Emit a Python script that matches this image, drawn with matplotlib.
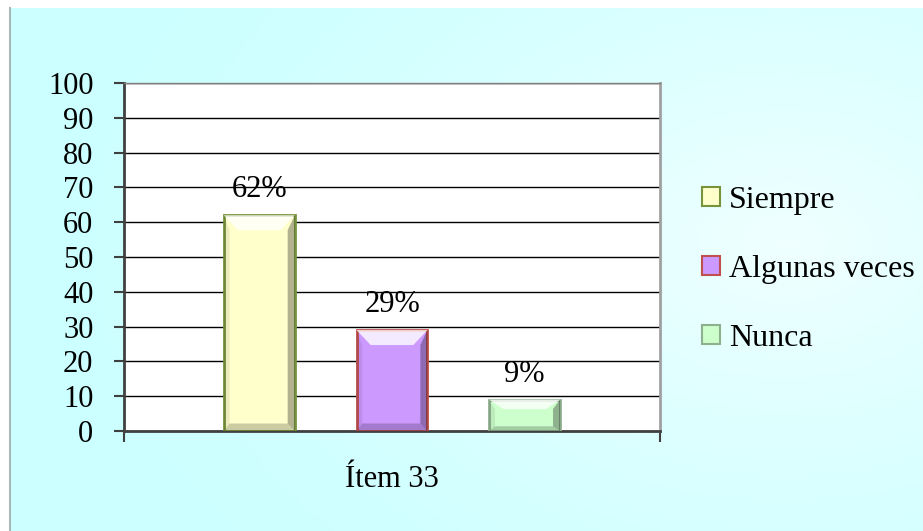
import numpy as np
import matplotlib.pyplot as plt
from matplotlib.patches import Patch, Polygon
from matplotlib.lines import Line2D

# datos del gráfico
categories = ['Siempre', 'Algunas veces', 'Nunca']
values = [62, 29, 9]
value_labels = ['62%', '29%', '9%']
group_label = 'Ítem 33'
yticks = list(range(0, 101, 10))

fill_colors = ['#FFFFCC', '#CC99FF', '#CCFFCC']
edge_colors = ['#77933C', '#C0504D', '#8FB08F']

plt.rcParams['font.family'] = ['Liberation Serif', 'DejaVu Serif']
FS = 22

fig = plt.figure(figsize=(9.23, 5.31), dpi=100)
fig.patch.set_facecolor('white')

# fondo celeste con un leve degradado
bg = fig.add_axes([10 / 923, 0, 1 - 10 / 923, 1 - 8 / 531])
gx, gy = np.meshgrid(np.linspace(0, 1, 200), np.linspace(0, 1, 120))
t = np.clip(1 - np.hypot((gx - 0.85) * 1.2, (gy - 0.55) * 1.0), 0, 1) ** 1.5
grad = np.zeros((120, 200, 3))
grad[..., 0] = (204 + 36 * t) / 255
grad[..., 1] = 1.0
grad[..., 2] = 1.0
bg.imshow(grad, extent=[0, 1, 0, 1], aspect='auto', origin='lower')
bg.axis('off')
fig.add_artist(Line2D([10 / 923, 10 / 923], [0, 1 - 8 / 531], color='#A8B8B8', lw=1.5))

ax = fig.add_axes([124 / 923, 100 / 531, 536 / 923, 348 / 531])
ax.set_facecolor('white')

x = np.arange(len(values))
width = 0.534
ax.bar(x, values, width=width, color=fill_colors, edgecolor=edge_colors, linewidth=2, zorder=3)

# efecto biselado de las barras
dx = width * 0.2
for xi, v in zip(x, values):
    dy = min(4.3, v * 0.3)
    x0, x1 = xi - width / 2, xi + width / 2
    top = Polygon([(x0, v), (x1, v), (x1 - dx, v - dy), (x0 + dx, v - dy)],
                  closed=True, facecolor='white', alpha=0.8, lw=0, zorder=4)
    right = Polygon([(x1, v), (x1, 0), (x1 - dx * 0.5, dy * 0.5), (x1 - dx * 0.5, v - dy)],
                    closed=True, facecolor='black', alpha=0.3, lw=0, zorder=4)
    left = Polygon([(x0, v), (x0, 0), (x0 + dx * 0.4, dy * 0.5), (x0 + dx * 0.4, v - dy)],
                   closed=True, facecolor='black', alpha=0.08, lw=0, zorder=4)
    bottom = Polygon([(x0, 0), (x1, 0), (x1 - dx * 0.5, dy * 0.5), (x0 + dx * 0.4, dy * 0.5)],
                     closed=True, facecolor='black', alpha=0.2, lw=0, zorder=4)
    for p in (top, right, left, bottom):
        ax.add_patch(p)

for xi, v, lbl in zip(x, values, value_labels):
    ax.annotate(lbl, (xi, v), xytext=(0, 8), textcoords='offset points',
                ha='center', va='bottom', fontsize=FS)

ax.set_xlim(-1.02, 3.02)
ax.set_ylim(0, 100)
ax.set_yticks(yticks)
ax.yaxis.grid(True, color='black', lw=1)
ax.set_axisbelow(True)
ax.tick_params(axis='y', direction='out', length=7, width=1.5, color='#404040',
               labelsize=FS, pad=15)

ax.set_xticks([-1.02, 3.02])
ax.set_xticklabels(['', ''])
ax.tick_params(axis='x', direction='out', length=8, width=1.5, color='#404040')
ax.set_xlabel(group_label, fontsize=FS, labelpad=13)

for side in ('left', 'bottom'):
    ax.spines[side].set_color('#404040')
    ax.spines[side].set_linewidth(2)
ax.spines['top'].set_color('#808080')
ax.spines['top'].set_linewidth(1)
ax.spines['right'].set_color('#A0A0A0')
ax.spines['right'].set_linewidth(2)

handles = [Patch(facecolor=fc, edgecolor=ec, lw=1.5) for fc, ec in zip(fill_colors, edge_colors)]
fig.legend(handles, categories, loc='upper left', bbox_to_anchor=(686 / 923, 1 - 170 / 531),
           frameon=False, fontsize=23, handlelength=0.55, handleheight=0.55, borderpad=0,
           handletextpad=0.3, labelspacing=1.25)

fig.savefig('out.png', dpi=100)
